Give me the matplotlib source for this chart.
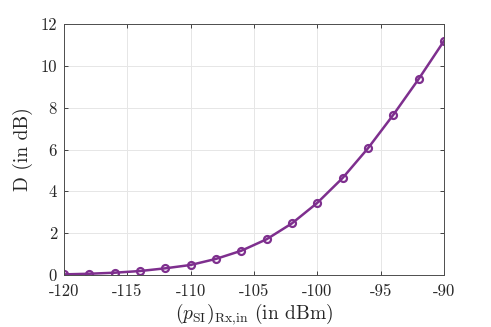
import numpy as np
import matplotlib
matplotlib.use('Agg')
import matplotlib.pyplot as plt

# data
p_in = [-120, -118, -116, -114, -112, -110, -108, -106,
        -104, -102, -100, -98, -96, -94, -92, -90]
d_db = [0.03, 0.06, 0.11, 0.19, 0.32, 0.48, 0.77, 1.16,
        1.71, 2.47, 3.45, 4.64, 6.06, 7.66, 9.37, 11.19]
x_ticks = [-120, -115, -110, -105, -100, -95, -90]
y_ticks = [0, 2, 4, 6, 8, 10, 12]

plt.rcParams['font.family'] = 'serif'
plt.rcParams['font.serif'] = ['cmr10']
plt.rcParams['mathtext.fontset'] = 'cm'
plt.rcParams['axes.unicode_minus'] = False
plt.rcParams['axes.formatter.use_mathtext'] = True

fig = plt.figure(figsize=(4.91, 3.27), dpi=100)
ax = fig.add_axes([64 / 491, 52 / 327, 380 / 491, 251 / 327])

ax.plot(p_in, d_db, color='#7E2F8E', linewidth=1.8, marker='o',
        markersize=5, markerfacecolor='none', markeredgewidth=1.6)

ax.set_xlim(-120, -90)
ax.set_ylim(0, 12)
ax.set_xticks(x_ticks)
ax.set_xticklabels([str(t) for t in x_ticks])
ax.set_yticks(y_ticks)
ax.set_yticklabels([str(t) for t in y_ticks])
ax.grid(True, color='#e6e6e6', linewidth=0.7)
ax.set_axisbelow(True)
ax.tick_params(direction='in', top=True, right=True, length=3,
               labelsize=12, colors='#262626', width=0.6)
ax.tick_params(axis='x', pad=6)
ax.tick_params(axis='y', pad=5)
for s in ax.spines.values():
    s.set_color('#4d4d4d')
    s.set_linewidth(0.7)

ax.set_xlabel(r'$(p_{\mathrm{SI}})_{\mathrm{Rx{,}in}}$ (in dBm)', fontsize=14,
              color='#262626', labelpad=2)
ax.set_ylabel('D (in dB)', fontsize=14, color='#262626', labelpad=5)

fig.savefig('out.png', dpi=100)
